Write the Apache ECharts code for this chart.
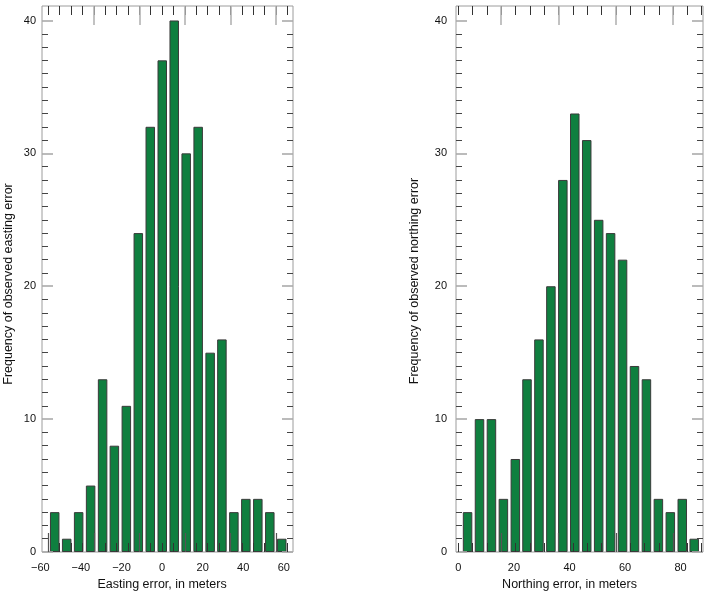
<!DOCTYPE html>
<html>
<head>
<meta charset="utf-8">
<script src="https://cdn.jsdelivr.net/npm/echarts@6/dist/echarts.min.js"></script>
<style>
html,body{margin:0;padding:0;background:#fff;}
#c{width:711px;height:592px;}
</style>
</head>
<body>
<div id="c"></div>
<script>
// ---- data ----
const eastBinCenters = [-52.9,-47.0,-41.1,-35.2,-29.3,-23.5,-17.6,-11.7,-5.8,0.1,6.0,11.9,17.8,23.7,29.5,35.4,41.3,47.2,53.1,59.0];
const eastCounts     = [3,1,3,5,13,8,11,24,32,37,40,30,32,15,16,3,4,4,3,1];
const northBinCenters = [3.3,7.6,11.9,16.2,20.5,24.7,29.0,33.3,37.6,41.9,46.2,50.5,54.8,59.1,63.4,67.7,72.0,76.3,80.6,84.9];
const northCounts     = [3,10,10,4,7,13,16,20,28,33,31,25,24,22,14,13,4,3,4,1];
const eastTickLabels  = [-60,-40,-20,0,20,40,60];
const northTickLabels = [0,20,40,60,80];
const freqTickLabels  = [0,10,20,30,40];
const freqMinorTicks  = [1,2,3,4,5,6,7,8,9,11,12,13,14,15,16,17,18,19,21,22,23,24,25,26,27,28,29,31,32,33,34,35,36,37,38,39];
// decorative frame ticks (tick-index units)
const eastFrameMinor   = [0,1,2,3,4,5,6,7,8,9,10,11,12,13,14,15,16,17,18,19,20,21];
const eastFrameMajorB  = [0,4,8,12,16,20];
const eastFrameMajorT  = [4,8,12,16,20];
const northFrameMinor  = [0,1,2,3,4,5,6,7,8,9,10,11,12,13,14,15,16,17];
const northFrameMajor  = [3,7,11,15];

const FONT = '"Liberation Sans","Arial",sans-serif';
const YMAX = 41.09;
const BAR_COLOR = '#0f7f3f';

const chart = echarts.init(document.getElementById('c'), null, {renderer:'canvas'});

function minus(v){ return String(v).replace('-', '\u2212'); }

const grids = [];
const xAxes = [];
const yAxes = [];
const series = [];

function addPanel(opt){
  const gBar = grids.length;
  grids.push({left:opt.labLeft, top:6, width:opt.labWidth, height:546, show:false, containLabel:false, outerBoundsMode:'none'});
  const gFrame = grids.length;
  grids.push({left:opt.frameLeft, top:6, width:opt.frameWidth, height:546, show:true, borderColor:'#9c9c9c', borderWidth:1, backgroundColor:'transparent', containLabel:false, outerBoundsMode:'none'});
  const gMajor = grids.length;
  grids.push({left:opt.frameLeft, top:6, width:opt.frameWidth, height:546, show:false, containLabel:false, outerBoundsMode:'none'});

  const xBar = xAxes.length;
  xAxes.push({
    gridIndex:gBar, type:'value', position:'bottom', min:opt.labMin, max:opt.labMax, interval:opt.labInterval,
    axisLine:{show:false, onZero:false}, axisTick:{show:false}, splitLine:{show:false},
    axisLabel:{show:true, margin:10, fontFamily:FONT, fontSize:11, color:'#111', formatter:minus, customValues:opt.labels},
    name:opt.xName, nameLocation:'middle', nameGap:24,
    nameTextStyle:{fontFamily:FONT, fontSize:12.5, color:'#111'}
  });
  const yBar = yAxes.length;
  yAxes.push({gridIndex:gBar, type:'value', min:0, max:YMAX, show:false, axisLine:{onZero:false}});

  function tickX(grid, pos, values, len, color, width, tmin, tmax){
    xAxes.push({
      gridIndex:grid, type:'value', position:pos, min:tmin, max:tmax, z:4,
      axisLine:{show:false, onZero:false}, axisLabel:{show:false}, splitLine:{show:false},
      axisTick:{show:true, inside:true, length:len, customValues:values, lineStyle:{color:color, width:width}}
    });
  }
  function tickY(grid, pos, values, len, color, width, extra){
    yAxes.push(Object.assign({
      gridIndex:grid, type:'value', position:pos, min:0, max:YMAX, z:4,
      axisLine:{show:false, onZero:false}, axisLabel:{show:false}, splitLine:{show:false},
      axisTick:{show:true, inside:true, length:len, customValues:values, lineStyle:{color:color, width:width}}
    }, extra||{}));
  }
  tickX(gFrame, 'bottom', opt.minor, 9, '#333', 1, opt.tMin, opt.tMax);
  tickX(gFrame, 'top', opt.minor, 9, '#333', 1, opt.tMin, opt.tMax);
  tickY(gFrame, 'left', freqMinorTicks, 6, '#444', 1, {
    axisLabel:{show:true, inside:false, margin:opt.yLabMargin, customValues:freqTickLabels, fontFamily:FONT, fontSize:11, color:'#111'},
    name:opt.yName, nameLocation:'middle', nameGap:opt.yNameGap,
    nameTextStyle:{fontFamily:FONT, fontSize:12.5, color:'#111', padding:opt.yNamePad}
  });
  tickY(gFrame, 'right', freqMinorTicks, 6, '#444', 1);
  tickX(gMajor, 'bottom', opt.majorB, 19, '#555', 1.2, opt.tMin, opt.tMax);
  tickX(gMajor, 'top', opt.majorT, 19, '#b3b3b3', 1.6, opt.tMin, opt.tMax);
  tickY(gMajor, 'left', freqTickLabels, 11, '#aaa', 1.6);
  tickY(gMajor, 'right', freqTickLabels, 11, '#aaa', 1.6);

  series.push({
    type:'bar', xAxisIndex:xBar, yAxisIndex:yBar, barWidth:9.5, clip:false, z:2,
    itemStyle:{color:BAR_COLOR, borderColor:'#3a3a3a', borderWidth:1},
    data: opt.centers.map((c,i)=>[c, opt.counts[i]])
  });
}

addPanel({
  labLeft:40.3, labWidth:243.5, labMin:-60, labMax:60, labInterval:20, labels:eastTickLabels,
  frameLeft:42, frameWidth:251, tMin:-0.55, tMax:21.5,
  minor:eastFrameMinor, majorB:eastFrameMajorB, majorT:eastFrameMajorT,
  xName:'Easting error, in meters', yName:'Frequency of observed easting error',
  yNameGap:27, yLabMargin:6, yNamePad:[0,10,0,0],
  centers:eastBinCenters, counts:eastCounts
});
addPanel({
  labLeft:458.4, labWidth:222.2, labMin:0, labMax:80, labInterval:20, labels:northTickLabels,
  frameLeft:456, frameWidth:247, tMin:-0.16, tMax:17.09,
  minor:northFrameMinor, majorB:northFrameMajor, majorT:northFrameMajor,
  xName:'Northing error, in meters', yName:'Frequency of observed northing error',
  yNameGap:35, yLabMargin:9, yNamePad:[0,4,0,0],
  centers:northBinCenters, counts:northCounts
});

chart.setOption({
  animation:false,
  backgroundColor:'#fff',
  grid:grids, xAxis:xAxes, yAxis:yAxes, series:series
});
</script>
</body>
</html>
